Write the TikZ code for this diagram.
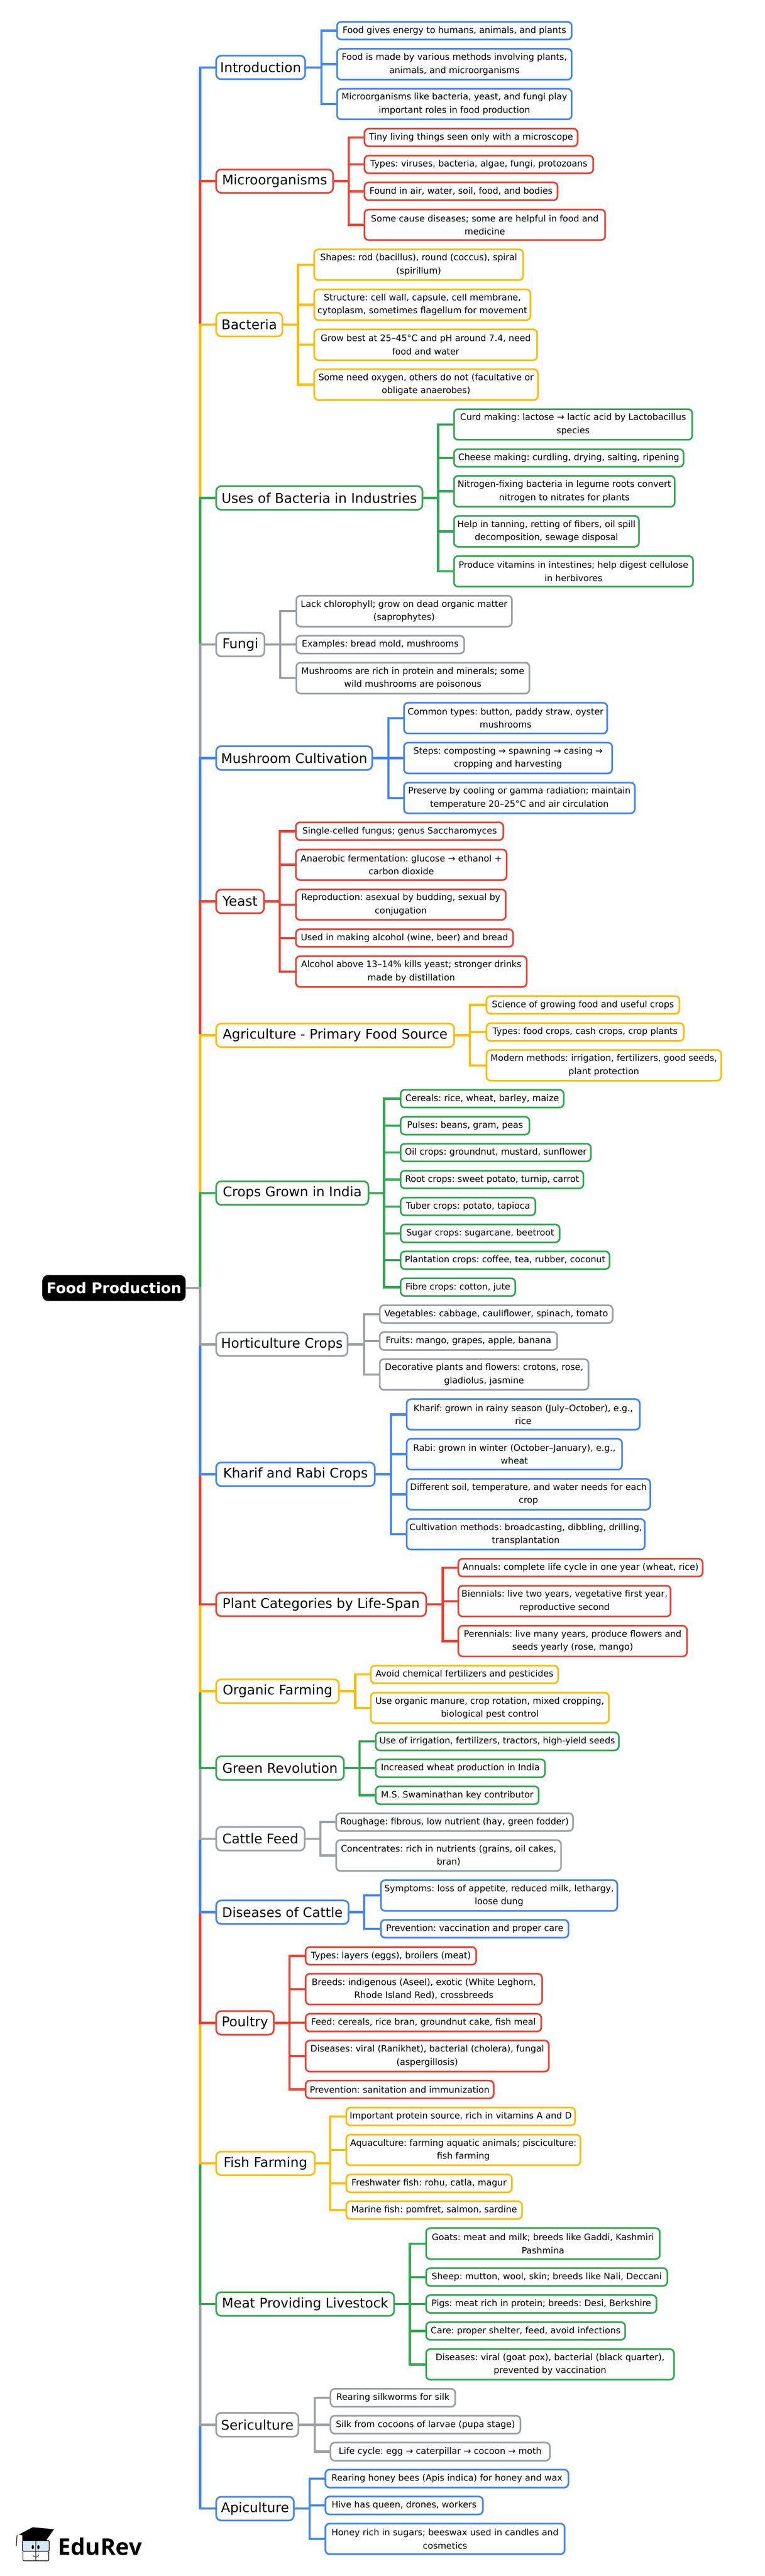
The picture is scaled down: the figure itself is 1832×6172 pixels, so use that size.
\documentclass[tikz,border=0pt]{standalone}
\usepackage{fontspec}
\setmainfont{DejaVu Sans}
\newfontfamily\logofont{Open Sans}
\definecolor{cblue}{HTML}{4285F4}
\definecolor{cred}{HTML}{EA4335}
\definecolor{camber}{HTML}{FFBC05}
\definecolor{cgreen}{HTML}{34A853}
\definecolor{cgray}{HTML}{9AA0A6}
\definecolor{cface}{HTML}{D6EAF8}
\tikzset{
  boxbase/.style={rectangle,draw,fill=white,line width=4pt,inner sep=0pt,outer sep=0pt,align=center,text=black,execute at begin node=\frenchspacing},
  topicbox/.style={boxbase,rounded corners=12pt,font=\fontsize{32}{40}\selectfont},
  leafbox/.style={boxbase,rounded corners=10pt,font=\fontsize{21.2}{31.4}\selectfont},
  rootbox/.style={rectangle,fill=black,text=white,rounded corners=14pt,inner sep=0pt,outer sep=0pt,font=\fontsize{35}{40}\selectfont\bfseries},
  link/.style={line width=5.5pt,line join=miter,line cap=butt},
}
% name, colour, right, top, bottom, bracket x, text
\newcommand\topic[7]{%
  \gdef\curT{#1}\gdef\curC{#2}%
  \node[topicbox,draw=#2,minimum width={#3-516-4},minimum height={#5-#4-4}] (#1) at ({(516+#3)/2},{-(#4+#5)/2}) {#7};
  \coordinate (b#1) at (#6,0);
}
% name, left, right, top, bottom, text
\newcommand\lf[6]{%
  \node[leafbox,draw=\curC,minimum width={#3-#2-4},minimum height={#5-#4-4}] (#1) at ({(#2+#3)/2},{-(#4+#5)/2}) {#6};
  \draw[link,\curC] (\curT.east) -- (b\curT |- \curT.east) |- (#1.west);
}
\begin{document}
\begin{tikzpicture}[x=1pt,y=1pt]
\useasboundingbox (0,0) rectangle (1832,-6172);
\node[rootbox,minimum width=343.4,minimum height=62.5] (root) at (273.1,-3086) {Food Production};
\coordinate (tk) at (479.5,-3086);

\topic{intro}{cblue}{733}{131.4}{191.8}{770}{Introduction}
\lf{i1}{805.5}{1372}{50.4}{96.8}{Food gives energy to humans, animals, and plants}
\lf{i2}{805.5}{1372}{115}{192.9}{Food is made by various methods involving plants,\\animals, and microorganisms}
\lf{i3}{805.5}{1372}{210.7}{287.9}{Microorganisms like bacteria, yeast, and fungi play\\important roles in food production}

\topic{micro}{cred}{800}{404}{464}{836}{Microorganisms}
\lf{m1}{871.4}{1386}{306.4}{352.5}{Tiny living things seen only with a microscope}
\lf{m2}{871.4}{1423.5}{370.7}{417.1}{Types: viruses, bacteria, algae, fungi, protozoans}
\lf{m3}{871.4}{1338}{435}{481.8}{Found in air, water, soil, food, and bodies}
\lf{m4}{871.4}{1452}{500}{577.3}{Some cause diseases; some are helpful in food and\\medicine}

\topic{bact}{camber}{678.6}{747.3}{808}{714.3}{Bacteria}
\lf{b1}{751}{1255.4}{595.3}{673.3}{Shapes: rod (bacillus), round (coccus), spiral\\(spirillum)}
\lf{b2}{751}{1273.2}{691.3}{769}{Structure: cell wall, capsule, cell membrane,\\cytoplasm, sometimes flagellum for movement}
\lf{b3}{751}{1289.3}{787}{865}{Grow best at 25–45°C and pH around 7.4, need\\food and water}
\lf{b4}{751}{1291}{882.7}{960.3}{Some need oxygen, others do not (facultative or\\obligate anaerobes)}

\topic{uses}{cgreen}{1014.3}{1162.7}{1223.3}{1050}{Uses of Bacteria in Industries}
\lf{u1}{1085.7}{1660.7}{978.3}{1055.7}{Curd making: lactose → lactic acid by Lactobacillus\\species}
\lf{u2}{1085.7}{1640}{1074.3}{1120.3}{Cheese making: curdling, drying, salting, ripening}
\lf{u3}{1085.7}{1618.8}{1138.3}{1216}{Nitrogen-fixing bacteria in legume roots convert\\nitrogen to nitrates for plants}
\lf{u4}{1085.7}{1533}{1234.3}{1312}{Help in tanning, retting of fibers, oil spill\\decomposition, sewage disposal}
\lf{u5}{1085.7}{1662.5}{1330.3}{1407.7}{Produce vitamins in intestines; help digest cellulose\\in herbivores}

\topic{fungi}{cgray}{635.7}{1514}{1574.7}{671.4}{Fungi}
\lf{f1}{708}{1228.6}{1425.3}{1503.3}{Lack chlorophyll; grow on dead organic matter\\(saprophytes)}
\lf{f2}{708}{1114.3}{1521.3}{1567.7}{Examples: bread mold, mushrooms}
\lf{f3}{708}{1270.5}{1585.7}{1663.7}{Mushrooms are rich in protein and minerals; some\\wild mushrooms are poisonous}

\topic{mush}{cblue}{893.8}{1785.7}{1846.7}{930.4}{Mushroom Cultivation}
\lf{c1}{966}{1457}{1681.7}{1759.3}{Common types: button, paddy straw, oyster\\mushrooms}
\lf{c2}{966}{1468.8}{1777.3}{1855}{Steps: composting → spawning → casing →\\cropping and harvesting}
\lf{c3}{966}{1523}{1873}{1950.7}{Preserve by cooling or gamma radiation; maintain\\temperature 20–25°C and air circulation}

\topic{yeast}{cred}{634.4}{2129.5}{2190}{670.6}{Yeast}
\lf{y1}{707}{1208}{1968.3}{2014.8}{Single-celled fungus; genus Saccharomyces}
\lf{y2}{707}{1216}{2033.4}{2110.5}{Anaerobic fermentation: glucose → ethanol +\\carbon dioxide}
\lf{y3}{707}{1214}{2129}{2206}{Reproduction: asexual by budding, sexual by\\conjugation}
\lf{y4}{707}{1231.4}{2224.4}{2270.6}{Used in making alcohol (wine, beer) and bread}
\lf{y5}{707}{1264}{2289}{2366.7}{Alcohol above 13–14\% kills yeast; stronger drinks\\made by distillation}

\topic{agri}{camber}{1090}{2450.5}{2510.6}{1126}{Agriculture - Primary Food Source}
\lf{a1}{1163.7}{1630}{2384.5}{2431}{Science of growing food and useful crops}
\lf{a2}{1163.7}{1640.4}{2449.4}{2496}{Types: food crops, cash crops, crop plants}
\lf{a3}{1163.7}{1730}{2513.8}{2591.3}{Modern methods: irrigation, fertilizers, good seeds,\\plant protection}

\topic{crops}{cgreen}{884.8}{2828.3}{2888.7}{920.5}{Crops Grown in India}
\lf{r1}{958}{1352.7}{2609}{2655.7}{Cereals: rice, wheat, barley, maize}
\lf{r2}{958}{1270.5}{2673.7}{2720.3}{Pulses: beans, gram, peas}
\lf{r3}{958}{1417.9}{2738.3}{2784.7}{Oil crops: groundnut, mustard, sunflower}
\lf{r4}{958}{1400}{2802.7}{2849.3}{Root crops: sweet potato, turnip, carrot}
\lf{r5}{958}{1284.8}{2867.3}{2914}{Tuber crops: potato, tapioca}
\lf{r6}{958}{1342.9}{2931.7}{2978.7}{Sugar crops: sugarcane, beetroot}
\lf{r7}{958}{1462.5}{2996.3}{3042.7}{Plantation crops: coffee, tea, rubber, coconut}
\lf{r8}{958}{1236.6}{3060.7}{3107}{Fibre crops: cotton, jute}

\topic{hort}{cgray}{835}{3190.7}{3251}{872.5}{Horticulture Crops}
\lf{h1}{907.9}{1470}{3125.4}{3171.8}{Vegetables: cabbage, cauliflower, spinach, tomato}
\lf{h2}{907.9}{1337.4}{3189.6}{3236.4}{Fruits: mango, grapes, apple, banana}
\lf{h3}{907.9}{1412}{3254.3}{3332}{Decorative plants and flowers: crotons, rose,\\gladiolus, jasmine}

\topic{khar}{cblue}{900}{3502}{3562.5}{937}{Kharif and Rabi Crops}
\lf{k1}{972.6}{1535}{3350.4}{3427.5}{Kharif: grown in rainy season (July–October), e.g.,\\rice}
\lf{k2}{972.6}{1492.4}{3445.4}{3523.2}{Rabi: grown in winter (October–January), e.g.,\\wheat}
\lf{k3}{972.6}{1560}{3541.4}{3619}{Different soil, temperature, and water needs for each\\crop}
\lf{k4}{972.6}{1547}{3637.3}{3714.7}{Cultivation methods: broadcasting, dibbling, drilling,\\transplantation}

\topic{plant}{cred}{1023}{3813.7}{3874.3}{1060.7}{Plant Categories by Life-Span}
\lf{p1}{1096.4}{1685.7}{3732.7}{3779.3}{Annuals: complete life cycle in one year (wheat, rice)}
\lf{p2}{1096.4}{1609}{3797.3}{3875}{Biennials: live two years, vegetative first year,\\reproductive second}
\lf{p3}{1096.4}{1648}{3893.3}{3970.7}{Perennials: live many years, produce flowers and\\seeds yearly (rose, mango)}

\topic{organ}{camber}{814.3}{4021.7}{4082.3}{851}{Organic Farming}
\lf{o1}{886.6}{1339.3}{3988.7}{4035}{Avoid chemical fertilizers and pesticides}
\lf{o2}{886.6}{1460.7}{4053.3}{4130.7}{Use organic manure, crop rotation, mixed cropping,\\biological pest control}

\topic{green}{cgreen}{825.9}{4206}{4266.7}{861.6}{Green Revolution}
\lf{g1}{898.2}{1484.8}{4148.7}{4195.7}{Use of irrigation, fertilizers, tractors, high-yield seeds}
\lf{g2}{898.2}{1308}{4213.3}{4260}{Increased wheat production in India}
\lf{g3}{898.2}{1292.9}{4278}{4324.7}{M.S. Swaminathan key contributor}

\topic{feed}{cgray}{732}{4375}{4436}{767.9}{Cattle Feed}
\lf{e1}{803.6}{1375}{4342.3}{4389}{Roughage: fibrous, low nutrient (hay, green fodder)}
\lf{e2}{803.6}{1346.4}{4406.7}{4484.7}{Concentrates: rich in nutrients (grains, oil cakes,\\bran)}

\topic{dis}{cblue}{837.5}{4551.4}{4611.8}{873}{Diseases of Cattle}
\lf{d1}{910.7}{1481}{4502.7}{4580.4}{Symptoms: loss of appetite, reduced milk, lethargy,\\loose dung}
\lf{d2}{910.7}{1364}{4597.9}{4644.6}{Prevention: vaccination and proper care}

\topic{poul}{cred}{658}{4816.4}{4876.8}{693.8}{Poultry}
\lf{q1}{730.4}{1142.9}{4662.9}{4709.3}{Types: layers (eggs), broilers (meat)}
\lf{q2}{730.4}{1300.9}{4727}{4804.6}{Breeds: indigenous (Aseel), exotic (White Leghorn,\\Rhode Island Red), crossbreeds}
\lf{q3}{730.4}{1299}{4822.9}{4869.3}{Feed: cereals, rice bran, groundnut cake, fish meal}
\lf{q4}{730.4}{1317}{4887}{4965.4}{Diseases: viral (Ranikhet), bacterial (cholera), fungal\\(aspergillosis)}
\lf{q5}{730.4}{1184.8}{4982.9}{5029.6}{Prevention: sanitation and immunization}

\topic{fish}{camber}{756.3}{5153}{5213.6}{791}{Fish Farming}
\lf{s1}{827.7}{1380}{5047.5}{5094.5}{Important protein source, rich in vitamins A and D}
\lf{s2}{827.7}{1392.9}{5112.4}{5189.8}{Aquaculture: farming aquatic animals; pisciculture:\\fish farming}
\lf{s3}{827.7}{1228.6}{5208}{5254.6}{Freshwater fish: rohu, catla, magur}
\lf{s4}{827.7}{1252.7}{5272}{5318.6}{Marine fish: pomfret, salmon, sardine}

\topic{meat}{cgreen}{946.4}{5490}{5550.7}{982}{Meat Providing Livestock}
\lf{l1}{1019}{1583}{5336.5}{5414.7}{Goats: meat and milk; breeds like Gaddi, Kashmiri\\Pashmina}
\lf{l2}{1019}{1601}{5432.3}{5479}{Sheep: mutton, wool, skin; breeds like Nali, Deccani}
\lf{l3}{1019}{1575}{5497}{5543.5}{Pigs: meat rich in protein; breeds: Desi, Berkshire}
\lf{l4}{1019}{1500}{5561.7}{5608}{Care: proper shelter, feed, avoid infections}
\lf{l5}{1019}{1617}{5626.3}{5703.6}{Diseases: viral (goat pox), bacterial (black quarter),\\prevented by vaccination}

\topic{seri}{cgray}{717}{5779}{5840}{754.5}{Sericulture}
\lf{t1}{790}{1092.9}{5721.5}{5768.5}{Rearing silkworms for silk}
\lf{t2}{790}{1249}{5786}{5832.8}{Silk from cocoons of larvae (pupa stage)}
\lf{t3}{790}{1319.6}{5850.3}{5897.7}{Life cycle: egg → caterpillar → cocoon → moth}

\topic{api}{cblue}{706}{5980}{6041}{742}{Apiculture}
\lf{v1}{777.7}{1364}{5915}{5962}{Rearing honey bees (Apis indica) for honey and wax}
\lf{v2}{777.7}{1159}{5979.4}{6026.5}{Hive has queen, drones, workers}
\lf{v3}{777.7}{1355}{6044.4}{6121.7}{Honey rich in sugars; beeswax used in candles and\\cosmetics}

% trunk: upper branches first to last, lower branches last to first
\foreach \n/\c in {intro/cblue,micro/cred,bact/camber,uses/cgreen,fungi/cgray,mush/cblue,yeast/cred,agri/camber,crops/cgreen,
  api/cblue,seri/cgray,meat/cgreen,fish/camber,poul/cred,dis/cblue,feed/cgray,green/cgreen,organ/camber,plant/cred,khar/cblue,hort/cgray}
  {\draw[link,\c] (root.east) -- (tk) |- (\n.west);}

% logo
\fill[black] (78.6,-6055) -- (129.5,-6060) -- (111.6,-6085) -- (44.6,-6073) -- cycle;
\fill[black] (53.6,-6072) -- (112,-6082) -- (112,-6087) -- (53.6,-6087) -- cycle;
\draw[black,line width=1.5pt] (41,-6074) -- (39,-6100);
\draw[black,line width=1.5pt,fill=cface,rounded corners=3pt] (53.6,-6087) rectangle (118,-6112.6);
\draw[black,line width=1.5pt,rounded corners=3pt] (55,-6113.7) -- (55,-6135.6) -- (117,-6135.6) -- (117,-6113.7);
\draw[black,line width=1.2pt] (85.7,-6087) -- (85.7,-6135.6);
\fill[black] (78.6,-6102.7) ellipse (2.8 and 5);
\fill[black] (92,-6102.7) ellipse (2.8 and 5);
\draw[black,line width=1.2pt] (79,-6123) .. controls (83,-6128) and (89,-6128) .. (93,-6122);
\node[anchor=base west,inner sep=0pt,font={\logofont\fontsize{55}{60}\selectfont\bfseries}] (logo) at (139,-6122.5) {EduRev};
\end{tikzpicture}
\end{document}
